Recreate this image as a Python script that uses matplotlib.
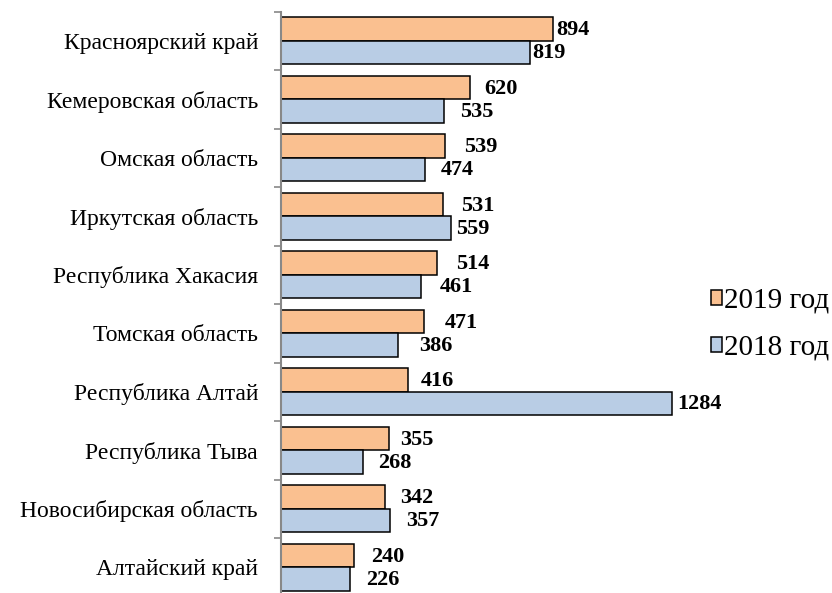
import matplotlib
matplotlib.use("Agg")
import matplotlib.pyplot as plt
import numpy as np
from matplotlib.patches import Patch

categories = ["Красноярский край", "Кемеровская область", "Омская область",
              "Иркутская область", "Республика Хакасия", "Томская область",
              "Республика Алтай", "Республика Тыва", "Новосибирская область",
              "Алтайский край"]
values_2019 = [894, 620, 539, 531, 514, 471, 416, 355, 342, 240]
values_2018 = [819, 535, 474, 559, 461, 386, 1284, 268, 357, 226]
series_labels = ["2019 год", "2018 год"]

# label x offsets (pixels), purely stylistic
off_2019 = [3, 15, 19, 18, 19, 20, 13, 11, 15, 17]
off_2018 = [2, 16, 16, 5, 18, 21, 6, 16, 16, 16]

plt.rcParams['font.family'] = ['Liberation Serif', 'DejaVu Serif']

W, H = 832, 593
dpi = 100
fig = plt.figure(figsize=(W / dpi, H / dpi), dpi=dpi)
ax_left = 281 / W
ax_top = 1 - 11.5 / H
ax_bot = -3.5 / H
ax_right = 707 / W
ax = fig.add_axes([ax_left, ax_bot, ax_right - ax_left, ax_top - ax_bot])

c19 = "#FAC090"
c18 = "#B9CDE5"
n = len(categories)
y = np.arange(n)
h = 0.4
ax.barh(y - h / 2, values_2019, height=h, color=c19, edgecolor="black", linewidth=1.1)
ax.barh(y + h / 2, values_2018, height=h, color=c18, edgecolor="black", linewidth=1.1)

pt = 72 / dpi
for i in range(n):
    ax.annotate(str(values_2019[i]), (values_2019[i], y[i] - h / 2),
                xytext=(off_2019[i] * pt, -1 * pt), textcoords="offset points",
                va="center", ha="left", fontsize=16, fontweight="bold")
    ax.annotate(str(values_2018[i]), (values_2018[i], y[i] + h / 2),
                xytext=(off_2018[i] * pt, -1 * pt), textcoords="offset points",
                va="center", ha="left", fontsize=16, fontweight="bold")

ax.set_xlim(0, 1400)
ax.set_ylim(n - 0.5, -0.5)
ax.set_yticks(y)
ax.set_yticklabels(categories, fontsize=17)
ax.tick_params(axis="y", which="major", length=0, pad=23 * pt)
ax.set_yticks(np.arange(-0.5, n, 1.0), minor=True)
ax.tick_params(axis="y", which="minor", length=7 * pt, width=1.2, color="#888888")
ax.xaxis.set_visible(False)
for s in ["top", "right", "bottom"]:
    ax.spines[s].set_visible(False)
ax.spines["left"].set_color("#888888")
ax.spines["left"].set_linewidth(1.5)

handles = [Patch(facecolor=c19, edgecolor="black", linewidth=1.1),
           Patch(facecolor=c18, edgecolor="black", linewidth=1.1)]
fig.legend(handles, series_labels, loc="center left",
           bbox_to_anchor=(711 / W, 1 - 324.5 / H), frameon=False,
           fontsize=21, handlelength=0.38, handleheight=0.38,
           handletextpad=0.08, labelspacing=0.72, borderpad=0, borderaxespad=0)

fig.savefig("out.png", dpi=dpi)
